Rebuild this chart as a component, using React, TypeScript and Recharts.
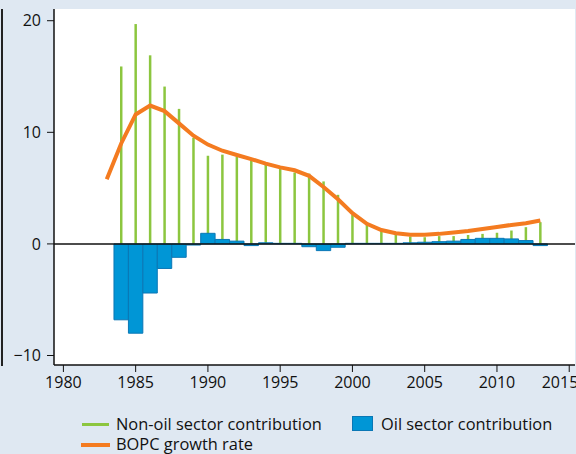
import { ComposedChart, XAxis, YAxis, Bar, Line, ReferenceLine, CartesianGrid } from 'recharts';

const years = [
  1983, 1984, 1985, 1986, 1987, 1988, 1989, 1990, 1991, 1992, 1993, 1994, 1995, 1996, 1997, 1998,
  1999, 2000, 2001, 2002, 2003, 2004, 2005, 2006, 2007, 2008, 2009, 2010, 2011, 2012, 2013,
];

// non-oil sector contribution (no bar for 1983)
const nonOil = [
  null, 15.9, 19.7, 16.9, 14.1, 12.1, 9.5, 7.9, 8.0, 7.8, 7.5, 7.2, 6.9, 6.4, 6.3, 5.6,
  4.4, 2.6, 1.8, 1.2, 0.87, 0.67, 0.6, 0.7, 0.7, 0.8, 0.9, 1.0, 1.2, 1.5, 1.95,
];

const oil = [
  null, -6.8, -8.0, -4.4, -2.2, -1.2, -0.1, 0.95, 0.4, 0.25, -0.15, 0.1, 0.05, 0.05, -0.25, -0.6,
  -0.3, 0.05, 0.05, 0.05, 0.05, 0.1, 0.15, 0.2, 0.25, 0.4, 0.5, 0.5, 0.45, 0.3, -0.15,
];

const bopc = [
  5.8, 9.0, 11.6, 12.4, 11.9, 10.8, 9.7, 8.9, 8.35, 7.97, 7.6, 7.2, 6.86, 6.6, 6.1, 5.1,
  4.0, 2.75, 1.8, 1.25, 0.95, 0.83, 0.83, 0.9, 1.03, 1.16, 1.34, 1.52, 1.7, 1.85, 2.1,
];

const xTicks = [1980, 1985, 1990, 1995, 2000, 2005, 2010, 2015];
const yTicks = [-10, 0, 10, 20];

const GREEN = '#8cc63f';
const BLUE = '#0096d6';
const ORANGE = '#f47b20';
const INK = '#111';

const data = years.map((year, i) => ({ year, nonOil: nonOil[i], oil: oil[i], bopc: bopc[i] }));

const xDomain = [1979.35, 2015.4];

const fmtY = (v: number) => (v < 0 ? `\u2212${Math.abs(v)}` : `${v}`);

function XTick({ x, y, payload }: any) {
  return (
    <text x={x} y={y} dy="0.71em" textAnchor="middle" fontSize={16} fill={INK}>
      {payload.value}
    </text>
  );
}

function YTick({ x, y, payload }: any) {
  return (
    <text x={x} y={y} dy="0.355em" textAnchor="end" fontSize={16} fill={INK}>
      {fmtY(payload.value)}
    </text>
  );
}

export default function App() {
  const legendText = { position: 'absolute' as const, fontSize: 16.4, lineHeight: '18px', color: INK, whiteSpace: 'nowrap' as const };
  return (
    <div
      style={{
        position: 'absolute', left: 0, top: 0, width: 576, height: 454, overflow: 'hidden',
        background: '#dfe8f2', fontFamily: '"Open Sans", sans-serif',
      }}
    >
      <div style={{ position: 'absolute', left: 1, top: 9, width: 1.5, height: 357, background: '#222' }} />
      <ComposedChart width={576} height={454} data={data} margin={{ top: 9, right: 1, bottom: 0, left: 0 }}>
        <CartesianGrid fill="#ffffff" horizontal={false} vertical={false} xAxisId="main" />
        <XAxis
          xAxisId="main"
          type="number"
          dataKey="year"
          domain={xDomain}
          ticks={xTicks}
          allowDataOverflow
          height={89}
          tickSize={7}
          tickMargin={5}
          tick={<XTick />}
          axisLine={{ stroke: INK, strokeWidth: 1.5 }}
          tickLine={{ stroke: INK }}
        />
        <XAxis
          xAxisId="top"
          orientation="top"
          type="number"
          dataKey="year"
          domain={xDomain}
          allowDataOverflow
          height={0}
          tick={false}
          tickLine={false}
          axisLine={{ stroke: INK, strokeWidth: 1.5 }}
        />
        <YAxis
          type="number"
          domain={[-10.85, 21.05]}
          ticks={yTicks}
          allowDataOverflow
          width={54}
          tickSize={7}
          tickMargin={6}
          tick={<YTick />}
          axisLine={{ stroke: INK, strokeWidth: 1.5 }}
          tickLine={{ stroke: INK }}
        />
        <YAxis yAxisId="r" orientation="right" width={0} domain={[0, 1]} tick={false} tickLine={false} axisLine={{ stroke: '#c8c8c8' }} />
        <Bar xAxisId="top" dataKey="nonOil" barSize={2.5} fill={GREEN} isAnimationActive={false} />
        <Bar xAxisId="main" dataKey="oil" barSize={14.4} fill={BLUE} stroke="#0a77b5" strokeWidth={1} isAnimationActive={false} />
        <Line
          xAxisId="main"
          dataKey="bopc"
          type="linear"
          stroke={ORANGE}
          strokeWidth={4}
          dot={false}
          activeDot={false}
          isAnimationActive={false}
        />
        <ReferenceLine xAxisId="main" y={0} stroke={INK} strokeWidth={1.5} />
      </ComposedChart>

      <div style={{ position: 'absolute', left: 82, top: 423, width: 27, height: 2.5, background: GREEN }} />
      <div style={{ ...legendText, left: 116, top: 414.5 }}>Non-oil sector contribution</div>
      <div style={{ position: 'absolute', left: 352, top: 416, width: 19, height: 13, background: BLUE, border: '1px solid #0a77b5' }} />
      <div style={{ ...legendText, left: 381, top: 414.5 }}>Oil sector contribution</div>
      <div style={{ position: 'absolute', left: 81, top: 442.5, width: 29, height: 4, background: ORANGE }} />
      <div style={{ ...legendText, left: 116, top: 434.5 }}>BOPC growth rate</div>
    </div>
  );
}
